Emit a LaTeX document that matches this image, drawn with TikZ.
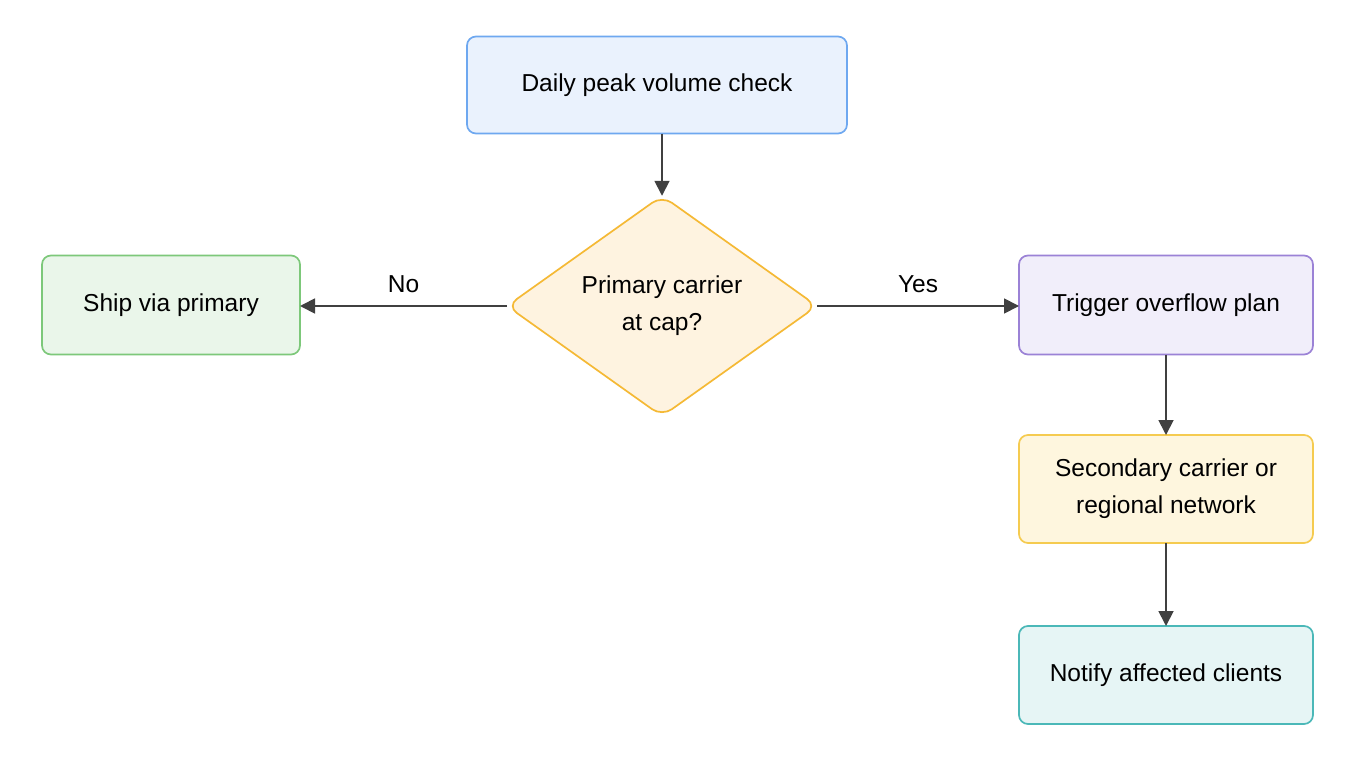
\documentclass[tikz,border=0pt]{standalone}
\usepackage{fontspec}
\setmainfont{Liberation Sans}
\usetikzlibrary{shapes.geometric,arrows.meta}
\definecolor{bF}{HTML}{EAF2FD}\definecolor{bD}{HTML}{6EA8F0}
\definecolor{oF}{HTML}{FEF3E0}\definecolor{oD}{HTML}{F5B935}
\definecolor{gF}{HTML}{EAF6EA}\definecolor{gD}{HTML}{7DC87A}
\definecolor{pF}{HTML}{F1EEFA}\definecolor{pD}{HTML}{9B82D6}
\definecolor{yF}{HTML}{FEF6DE}\definecolor{yD}{HTML}{F5CB50}
\definecolor{tF}{HTML}{E6F5F5}\definecolor{tD}{HTML}{4BB8B8}
\definecolor{ar}{HTML}{404040}
\tikzset{
 box/.style={draw, line width=1.7pt, rounded corners=9pt, align=center, font=\fontsize{24.5}{37}\selectfont, inner sep=0pt, outer sep=0pt},
 conn/.style={draw=ar, line width=1.8pt, -{Triangle[length=15pt,width=15pt]}},
 lab/.style={font=\fontsize{24.5}{28}\selectfont}
}
\begin{document}
\begin{tikzpicture}[x=1pt,y=-1pt]
\useasboundingbox[fill=white] (0,0) rectangle (1360,768);
\node[box, fill=bF, draw=bD, minimum width=380pt, minimum height=97pt] (top) at (657,85) {Daily peak volume check};
\node[box, diamond, fill=oF, draw=oD, minimum width=310pt, minimum height=204pt, rounded corners=12pt] (dec) at (662,306) {Primary carrier\\at cap?};
\node[box, fill=gF, draw=gD, minimum width=258pt, minimum height=99pt] (ship) at (171,305) {Ship via primary};
\node[box, fill=pF, draw=pD, minimum width=294pt, minimum height=99pt] (trig) at (1166,305) {Trigger overflow plan};
\node[box, fill=yF, draw=yD, minimum width=294pt, minimum height=108pt] (sec) at (1166,489) {Secondary carrier or\\regional network};
\node[box, fill=tF, draw=tD, minimum width=294pt, minimum height=98pt] (not) at (1166,675) {Notify affected clients};
\draw[conn] (top.south -| dec.north) -- (dec.north);
\draw[conn] (dec.west) -- node[lab, above=9pt]{No} (dec.west -| ship.east);
\draw[conn] (dec.east) -- node[lab, above=9pt]{Yes} (dec.east -| trig.west);
\draw[conn] (trig) -- (sec);
\draw[conn] (sec) -- (not);
\end{tikzpicture}
\end{document}
